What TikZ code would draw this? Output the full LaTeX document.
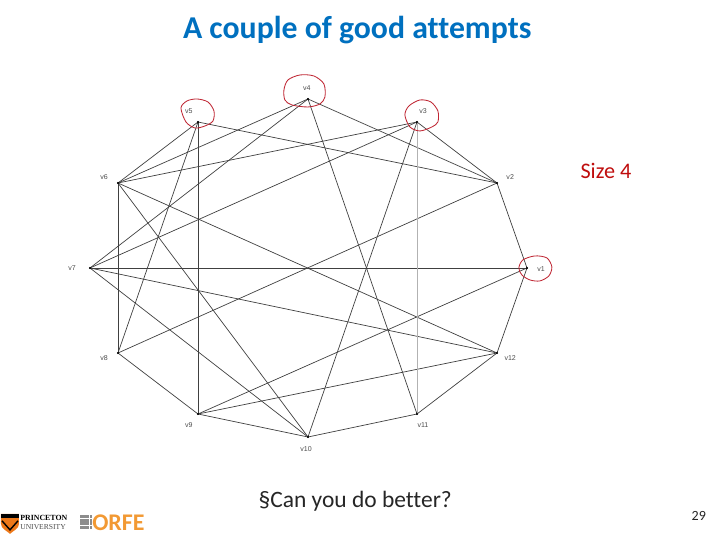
\documentclass[tikz,border=0pt]{standalone}
\usepackage{fontspec}
\setmainfont{Carlito}[Ligatures=CommonOff]
\newfontfamily\labelfont{Liberation Sans}
\newfontfamily\logofont{Liberation Serif}
\usepackage{tkz-euclide}
\usetikzlibrary{calc}
\definecolor{TitleClr}{rgb}{0,0.44,0.75}
\definecolor{MarkClr}{rgb}{0.75,0.15,0.2}
\definecolor{SizeClr}{rgb}{0.75,0.05,0.05}
\definecolor{EdgeClr}{gray}{0.25}
\definecolor{OrfeClr}{rgb}{0.95,0.6,0.2}
\definecolor{ShieldClr}{rgb}{0.93,0.47,0.1}
\tikzset{
  vlabel/.style={font=\labelfont\fontsize{5}{6}\selectfont,text=black!70,inner sep=0pt},
  markring/.style={draw=MarkClr,line width=0.6pt},
  pxgrid/.style={x=0.025cm,y=-0.025cm,shift={(0cm,13.5cm)}}
}

\begin{document}
\begin{tikzpicture}
\useasboundingbox (0,0) rectangle (18,13.5);
\tkzSetUpLine[line width=0.5pt,color=EdgeClr]
\tkzSetUpPoint[fill=black]

\tkzDefPoints{13.175/6.8/v1,12.425/8.925/v2,10.425/10.45/v3,7.7/11.025/v4,4.95/10.45/v5,2.95/8.925/v6}
\tkzDefPoints{2.25/6.8/v7,2.95/4.675/v8,4.95/3.15/v9,7.7/2.575/v10,10.425/3.15/v11,12.425/4.675/v12}

\tkzDrawSegments(v1,v2 v2,v3 v4,v2 v5,v2 v8,v2 v5,v6 v6,v4 v6,v3 v4,v7 v7,v3)
\tkzDrawSegments(v5,v8 v6,v10 v6,v12 v7,v12 v7,v10 v8,v9 v9,v10 v9,v1 v9,v12)
\tkzDrawSegments(v10,v11 v10,v3 v4,v11 v11,v12 v12,v1)
\tkzDrawSegment[line width=0.6pt](v7,v1)
\tkzDrawSegment[line width=0.6pt](v6,v8)
\tkzDrawSegment[line width=0.6pt](v5,v9)
\tkzDrawSegment[line width=0.7pt,color=black!30](v3,v11)
\tkzDrawPoints[size=1](v1,v2,v3,v4,v5,v6,v7,v8,v9,v10,v11,v12)

\node[vlabel] (lv1) at ($(v1)+(0.35,-0.02)$) {v1};
\node[vlabel] (lv2) at ($(v2)+(0.33,0.15)$) {v2};
\node[vlabel] (lv3) at ($(v3)+(0.15,0.28)$) {v3};
\node[vlabel] (lv4) at ($(v4)+(-0.03,0.28)$) {v4};
\node[vlabel] (lv5) at ($(v5)+(-0.23,0.28)$) {v5};
\node[vlabel] (lv6) at ($(v6)+(-0.35,0.15)$) {v6};
\node[vlabel] (lv7) at ($(v7)+(-0.45,0)$) {v7};
\node[vlabel] (lv8) at ($(v8)+(-0.35,-0.13)$) {v8};
\node[vlabel] (lv9) at ($(v9)+(-0.23,-0.28)$) {v9};
\node[vlabel] (lv10) at ($(v10)+(-0.05,-0.3)$) {v10};
\node[vlabel] (lv11) at ($(v11)+(0.15,-0.28)$) {v11};
\node[vlabel] (lv12) at ($(v12)+(0.33,-0.13)$) {v12};

\begin{scope}[pxgrid]
\draw[markring] plot[smooth cycle] coordinates {(181,108) (187,101) (197,99) (208,102) (214,111) (213,121) (205,126) (195,128) (186,122)};
\draw[markring] plot[smooth cycle] coordinates {(284,90) (288,80) (300,75) (314,76) (324,84) (325,97) (320,104) (308,107) (292,105) (285,100)};
\draw[markring] plot[smooth cycle] coordinates {(405,115) (409,106) (420,100) (431,102) (438,111) (438,122) (432,127) (420,131) (410,127)};
\draw[markring] plot[smooth cycle] coordinates {(519,268) (523,260) (535,256) (547,258) (552,267) (549,276) (540,281) (530,280) (522,275)};
\end{scope}

\node[font=\fontsize{22.6}{26}\selectfont\bfseries,text=TitleClr,inner sep=0pt] (title) at (8.93,12.76) {A couple of good attempts};
\node[font=\fontsize{15.8}{19}\selectfont,text=SizeClr,inner sep=0pt] (size) at (15.15,9.22) {Size 4};
\node[font=\fontsize{16.7}{20}\selectfont,text=black!85,inner sep=0pt] (question) at (8.88,0.97) {§Can you do better?};
\node[font=\fontsize{10}{12}\selectfont,text=black!85,inner sep=0pt] (page) at (17.47,0.6) {29};

\begin{scope}[pxgrid]
\fill[ShieldClr] (1,514) -- (19,514) -- (19,524) .. controls (19,529) and (13,531) .. (10,534) .. controls (7,531) and (1,529) .. (1,524) -- cycle;
\fill[black] (1,514) -- (19,514) -- (19,518) -- (1,518) -- cycle;
\draw[black,line width=1pt] (2,521) -- (10,530) -- (18,521);
\node[font=\logofont\fontsize{5.6}{6}\selectfont\bfseries,inner sep=0pt,anchor=west] (logoa) at (20,518) {PRINCETON};
\node[font=\logofont\fontsize{5.4}{6}\selectfont,text=black!70,inner sep=0pt,anchor=west] (logob) at (20,527) {UNIVERSITY};
\foreach \i in {0,1,2,3}{
  \foreach \j in {0,1,2,3}{
    \fill[black!45] (80+\i*3.2,515.5+\j*3.5) rectangle ++(2.6,2.9);
  }
}
\node[font=\fontsize{17}{20}\selectfont\bfseries,text=OrfeClr,inner sep=0pt,anchor=west] (orfe) at (92,522.5) {ORFE};
\end{scope}

\end{tikzpicture}
\end{document}
